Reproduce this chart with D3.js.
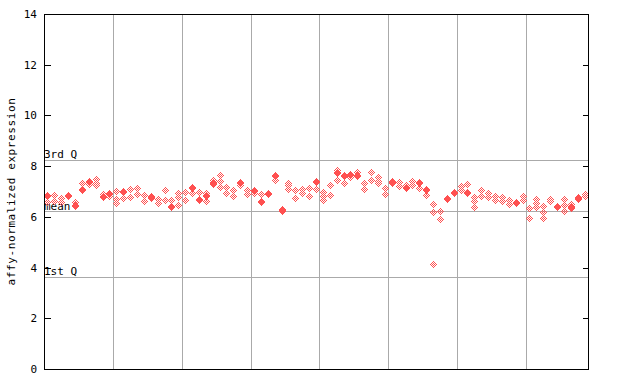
<!DOCTYPE html>
<html>
<head>
<meta charset="utf-8">
<style>
body { margin: 0; background: #fff; }
text { font-family: "DejaVu Sans Mono", monospace; font-size: 11px; fill: #000; }
.grid { stroke: #aaa; stroke-width: 1; shape-rendering: crispEdges; }
</style>
</head>
<body>
<svg width="640" height="384"></svg>
<script src="https://cdn.jsdelivr.net/npm/d3@7"></script>
<script>

// one entry per sample column: solid diamonds and checkered diamonds
var filledPts = [
  [6.83], [], [], [6.83], [6.42], [7.06], [7.39], [], [6.77], [6.89],
  [], [6.99], [], [], [], [6.73], [], [], [6.4], [],
  [], [7.12], [6.65], [6.82], [7.33], [], [], [], [7.35], [],
  [7.01], [6.6], [6.89], [7.62], [6.28], [], [], [], [], [7.39],
  [], [], [7.72], [7.62], [7.67], [7.62], [], [], [], [],
  [7.32], [], [7.15], [], [7.32], [7.07], [], [], [6.72], [6.95],
  [], [6.95], [], [], [], [], [], [], [6.56], [],
  [], [], [], [], [6.38], [], [6.4], [6.72], []
];
var openPts = [
  [6.6], [6.85, 6.62], [6.75, 6.55], [], [6.55], [7.28], [7.28], [7.45, 7.32, 7.22], [6.85], [6.8],
  [6.99, 6.69, 6.5], [6.76], [7.09, 6.76], [7.09, 6.89], [6.85, 6.62], [6.82], [6.68, 6.5], [7.04, 6.62], [6.66], [6.96, 6.8, 6.43],
  [6.96, 6.66], [6.9], [6.96], [6.9, 6.57], [7.44, 7.25], [7.65, 7.36, 7.19], [7.13, 6.93], [7.01, 6.77], [7.2], [7.01, 6.85],
  [6.9], [6.85], [6.95], [7.43], [6.2], [7.32, 7.2, 7.1], [7.01, 6.7], [7.04, 6.9], [7.1, 6.77], [7.1],
  [6.95, 6.8, 6.63], [7.22, 6.82], [7.82, 7.43], [7.3], [7.55], [7.75], [7.32, 7.1], [7.77, 7.43], [7.52, 7.43, 7.32], [7.13, 6.87],
  [7.4], [7.32, 7.2], [7.25], [7.39, 7.22], [7.13], [6.81], [6.45, 6.19, 4.13], [6.22, 5.86], [], [],
  [7.17, 7.03], [7.28], [6.77, 6.57, 6.38], [7.03, 6.81], [6.89, 6.76], [6.77, 6.63], [6.77, 6.57], [6.63, 6.48], [], [6.8, 6.63],
  [6.34, 5.9], [6.72, 6.5, 6.34], [6.43, 6.2, 5.9], [6.72, 6.6], [], [6.7, 6.43, 6.2], [6.5, 6.3], [6.8], [6.9, 6.8]
];

var yTicks = [0, 2, 4, 6, 8, 10, 12, 14];
var refLines = [
  { label: "3rd Q", value: 8.23 },
  { label: "mean", value: 6.23 },
  { label: "1st Q", value: 3.62 }
];
var groupSize = 10;
var yTitle = "affy-normalized expression";
var red = "#ff5050";

var svg = d3.select("svg");
var pLeft = 44, pRight = 588, pTop = 14, pBottom = 369;

var x = d3.scaleBand()
    .domain(d3.range(filledPts.length))
    .range([pLeft, pRight]);
var y = d3.scaleLinear().domain([0, 14]).range([pBottom, pTop]);

var defs = svg.append("defs");
var pat = defs.append("pattern")
    .attr("id", "checker")
    .attr("patternUnits", "userSpaceOnUse")
    .attr("width", 2).attr("height", 2);
pat.append("rect").attr("x", 0).attr("y", 0).attr("width", 1).attr("height", 1).attr("fill", red);
pat.append("rect").attr("x", 1).attr("y", 1).attr("width", 1).attr("height", 1).attr("fill", red);

// vertical group separators
var seps = d3.range(groupSize, filledPts.length, groupSize);
svg.selectAll(".vgrid")
    .data(seps)
  .enter().append("line")
    .attr("class", "grid")
    .attr("x1", function(d) { return Math.round(x(d)) + 0.5; })
    .attr("x2", function(d) { return Math.round(x(d)) + 0.5; })
    .attr("y1", pTop).attr("y2", pBottom);

// quartile / mean lines
svg.selectAll(".hgrid")
    .data(refLines)
  .enter().append("line")
    .attr("class", "grid")
    .attr("x1", pLeft).attr("x2", pRight)
    .attr("y1", function(d) { return Math.round(y(d.value)) + 0.5; })
    .attr("y2", function(d) { return Math.round(y(d.value)) + 0.5; });

svg.selectAll(".reflabel")
    .data(refLines)
  .enter().append("text")
    .attr("x", pLeft)
    .attr("y", function(d) { return Math.round(y(d.value)) - (d.label == "mean" ? 1 : 2); })
    .text(function(d) { return d.label; });

function diamond(cx, cy) {
  cx = Math.round(cx); cy = Math.round(cy);
  return "M" + cx + "," + (cy - 4) + "L" + (cx + 4) + "," + cy + "L" + cx + "," + (cy + 4) + "L" + (cx - 4) + "," + cy + "Z";
}

var openFlat = [], filledFlat = [];
openPts.forEach(function(vals, i) { vals.forEach(function(v) { openFlat.push({ i: i, v: v }); }); });
filledPts.forEach(function(vals, i) { vals.forEach(function(v) { filledFlat.push({ i: i, v: v }); }); });

svg.selectAll(".open")
    .data(openFlat)
  .enter().append("path")
    .attr("d", function(d) { return diamond(x(d.i) + x.bandwidth() / 2, y(d.v)); })
    .attr("fill", "url(#checker)")
    .attr("shape-rendering", "crispEdges");

svg.selectAll(".filled")
    .data(filledFlat)
  .enter().append("path")
    .attr("d", function(d) { return diamond(x(d.i) + x.bandwidth() / 2, y(d.v)); })
    .attr("fill", red)
    .attr("shape-rendering", "crispEdges");

// frame
svg.append("rect")
    .attr("x", pLeft + 0.5).attr("y", pTop + 0.5)
    .attr("width", pRight - pLeft).attr("height", pBottom - pTop)
    .attr("fill", "none").attr("stroke", "#000")
    .attr("shape-rendering", "crispEdges");

// left axis, ticks pointing inward
var yl = svg.append("g")
    .attr("transform", "translate(" + (pLeft + 0.5) + ",0)")
    .call(d3.axisRight(y).tickValues(yTicks).tickSize(6).tickFormat(""));
yl.select(".domain").remove();
yl.selectAll("line").attr("shape-rendering", "crispEdges");

svg.selectAll(".ylab")
    .data(yTicks)
  .enter().append("text")
    .attr("x", pLeft - 7)
    .attr("y", function(d) { return y(d) + 4; })
    .attr("text-anchor", "end")
    .text(function(d) { return d; });

// right axis, ticks pointing inward
var yr = svg.append("g")
    .attr("transform", "translate(" + (pRight + 0.5) + ",0)")
    .call(d3.axisLeft(y).tickValues(yTicks).tickSize(6).tickFormat(""));
yr.select(".domain").remove();
yr.selectAll("line").attr("shape-rendering", "crispEdges");

svg.append("text")
    .attr("transform", "translate(15," + (pTop + pBottom) / 2 + ") rotate(-90)")
    .attr("text-anchor", "middle")
    .attr("letter-spacing", "0.6px")
    .text(yTitle);

</script>
</body>
</html>
